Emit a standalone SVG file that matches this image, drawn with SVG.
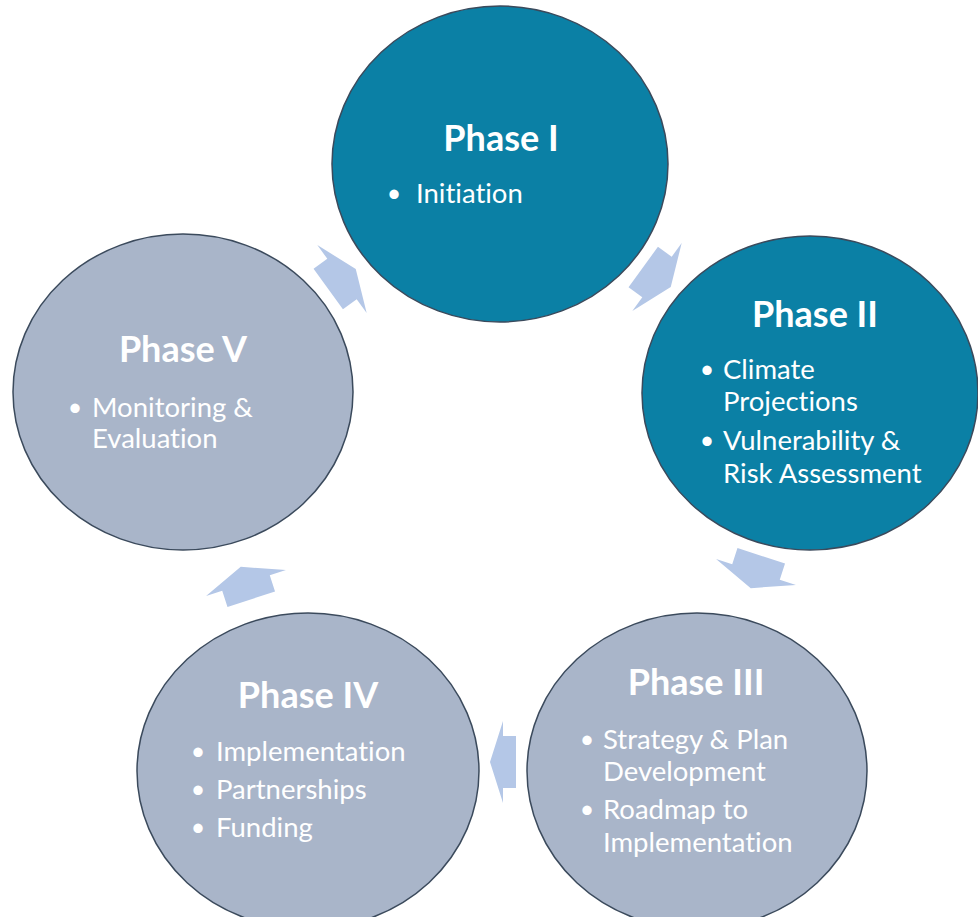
<svg xmlns="http://www.w3.org/2000/svg" xmlns:xlink="http://www.w3.org/1999/xlink" width="978" height="917" viewBox="0 0 978 917">
<style>
.teal{fill:#0B80A5;stroke:#3B4A5C;stroke-width:1.5}
.grey{fill:#A9B5C9;stroke:#3B4A5C;stroke-width:1.5}
.arrow{fill:#B4C7E7}
text{font-variant-ligatures:none;font-feature-settings:"liga" 0}
.title{font-family:Lato,"Liberation Sans",sans-serif;font-weight:bold;font-size:36px;fill:#FFFFFF;text-anchor:middle}
.body{font-family:Lato,"Liberation Sans",sans-serif;font-size:27.5px;fill:#FFFFFF}
.bul{font-family:Lato,"Liberation Sans",sans-serif;font-size:25px;fill:#FFFFFF;text-anchor:middle}
</style>
<defs>
<polygon id="arrL" points="-17,-25 0,-25 0,-42 17,0 0,42 0,25 -17,25"/>
<polygon id="arrS" points="-13,-26 0,-26 0,-41 13,0 0,41 0,26 -13,26"/>
</defs>
<rect width="978" height="917" fill="#FFFFFF"/>
<g id="connectors">
<use xlink:href="#arrL" class="arrow" transform="translate(657,277) rotate(36)"/>
<use xlink:href="#arrL" class="arrow" transform="translate(756,572) rotate(108)"/>
<use xlink:href="#arrS" class="arrow" transform="translate(503,762) rotate(180)"/>
<use xlink:href="#arrL" class="arrow" transform="translate(246,583) rotate(252)"/>
<use xlink:href="#arrL" class="arrow" transform="translate(342,279) rotate(324)"/>
</g>
<g id="phase1">
<ellipse class="teal" cx="500" cy="164" rx="168" ry="158"/>
<text class="title" x="501" y="151">Phase I</text>
<text class="bul" x="394" y="202">•</text>
<text class="body" x="416" y="203">Initiation</text>
</g>
<g id="phase2">
<ellipse class="teal" cx="810" cy="393" rx="168" ry="157"/>
<text class="title" x="815" y="327">Phase II</text>
<text class="bul" x="707" y="378">•</text>
<text class="body" x="723" y="379">Climate</text>
<text class="body" x="723" y="411">Projections</text>
<text class="bul" x="707" y="449">•</text>
<text class="body" x="723" y="450">Vulnerability &amp;</text>
<text class="body" x="723" y="483">Risk Assessment</text>
</g>
<g id="phase3">
<ellipse class="grey" cx="697" cy="771" rx="170" ry="158"/>
<text class="title" x="696" y="695">Phase III</text>
<text class="bul" x="587" y="748">•</text>
<text class="body" x="603" y="749">Strategy &amp; Plan</text>
<text class="body" x="603" y="781">Development</text>
<text class="bul" x="587" y="818">•</text>
<text class="body" x="603" y="819">Roadmap to</text>
<text class="body" x="603" y="852">Implementation</text>
</g>
<g id="phase4">
<ellipse class="grey" cx="308" cy="771" rx="171" ry="158"/>
<text class="title" x="308" y="708">Phase IV</text>
<text class="bul" x="198" y="760">•</text>
<text class="body" x="216" y="761">Implementation</text>
<text class="bul" x="198" y="798">•</text>
<text class="body" x="216" y="799">Partnerships</text>
<text class="bul" x="198" y="836">•</text>
<text class="body" x="216" y="837">Funding</text>
</g>
<g id="phase5">
<ellipse class="grey" cx="183" cy="392" rx="170" ry="158"/>
<text class="title" x="183" y="362">Phase V</text>
<text class="bul" x="75" y="416">•</text>
<text class="body" x="92" y="417">Monitoring &amp;</text>
<text class="body" x="92" y="448">Evaluation</text>
</g>
</svg>
